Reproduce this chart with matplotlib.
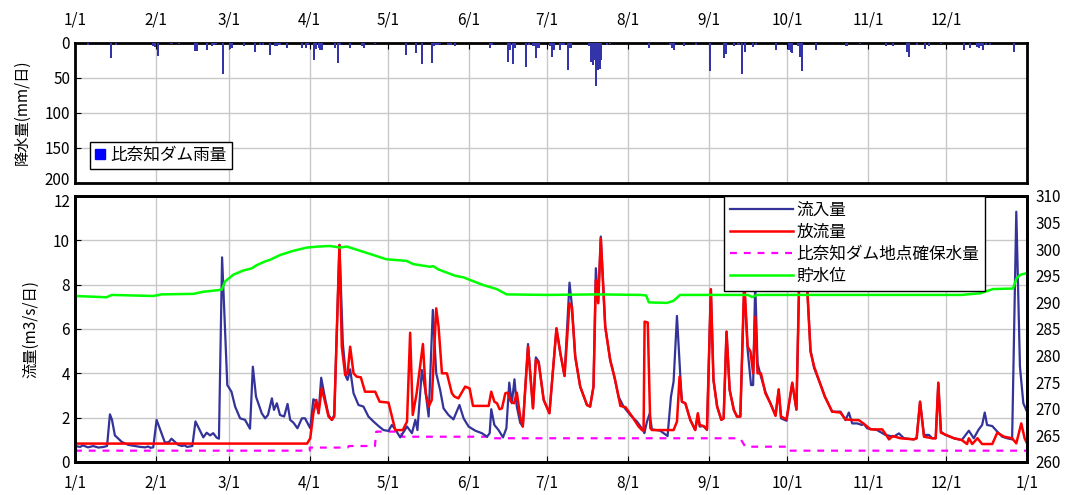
import numpy as np
import matplotlib
matplotlib.use("Agg")
import matplotlib.pyplot as plt
import matplotlib.transforms as mtransforms
from matplotlib.patches import Patch

plt.rcParams["font.family"] = ["Noto Sans CJK JP", "DejaVu Sans"]

# month starts (day of year, 0 = 1/1)
month_days = [0, 31, 59, 90, 120, 151, 181, 212, 243, 273, 304, 334]
month_labels = ["1/1", "2/1", "3/1", "4/1", "5/1", "6/1", "7/1", "8/1", "9/1", "10/1", "11/1", "12/1"]

# daily rainfall (mm/day) at Hinachi dam
rain_day = [4.9, 13.8, 15.7, 30.0, 30.7, 31.7, 37.0, 40.0, 46.0, 46.7, 50.5, 52.4, 53.3, 54.0,
            56.8, 59.5, 60.1, 64.8, 69.0, 71.0, 72.2, 74.8, 76.7, 77.4, 78.4, 81.2, 87.0, 88.6,
            89.5, 91.7, 92.5, 93.4, 94.0, 94.8, 99.7, 101.0, 101.6, 105.5, 110.0, 110.9, 115.0,
            126.8, 130.8, 133.0, 136.8, 137.5, 138.1, 139.0, 140.0, 143.2, 144.1, 145.8, 159.0,
            159.9, 165.9, 166.6, 168.0, 168.8, 172.9, 173.9, 175.8, 176.9, 177.7, 182.2, 182.9,
            183.8, 186.0, 186.6, 187.3, 188.9, 190.0, 197.0, 197.8, 198.6, 199.2, 199.9, 200.5,
            201.1, 201.8, 204.0, 205.0, 220.0, 228.0, 229.0, 229.8, 233.6, 238.0, 243.6, 248.7,
            249.4, 252.5, 254.4, 255.8, 256.8, 260.0, 261.0, 268.8, 273.6, 274.5, 274.9, 277.1,
            277.9, 278.9, 284.0, 295.8, 300.9, 311.0, 313.8, 318.9, 319.8, 322.8, 326.0, 327.3,
            332.0, 341.0, 343.0, 345.7, 346.6, 347.2, 348.0, 349.2, 350.8, 360.0]
rain_mm = [3, 22, 3, 5, 6, 19, 2, 2, 12, 12, 11, 4, 3, 2,
           45, 9, 8, 4, 13, 3, 3, 18, 5, 4, 3, 8, 7, 7,
           3, 24, 9, 8, 11, 11, 7, 29, 3, 7, 4, 7, 2,
           18, 14, 31, 29, 5, 3, 3, 2, 3, 3, 4, 8,
           3, 28, 11, 30, 8, 34, 3, 4, 22, 7, 5, 20,
           11, 10, 3, 3, 39, 7, 4, 27, 32, 25, 62, 39,
           38, 24, 3, 2, 8, 3, 8, 10, 5, 3, 41, 22,
           16, 5, 3, 45, 13, 6, 3, 11, 10, 13, 14, 5,
           20, 40, 10, 5, 2, 5, 4, 13, 20, 3, 9, 5,
           2, 11, 7, 6, 8, 5, 10, 3, 3, 13]

# inflow (m3/s)
in_day = [0, 2, 3, 5, 7, 9, 11, 12.3, 13.4, 14.2, 15.3, 18, 20.5, 23, 25, 27, 28, 29, 30,
          31.3, 34.5, 36, 37, 39.6, 41, 42, 43, 45, 46.2, 49.2, 50.5, 51.8, 53, 54.3, 55.2,
          56.4, 58.4, 60, 61.4, 63.3, 65.2, 67.1, 68.2, 69.4, 71.6, 72.9, 74, 75.5, 76.3, 77.4,
          78.6, 80.2, 81.5, 82.5, 83.8, 85.3, 87, 88.2, 90.2, 91.4, 92.5, 93.4, 94.4, 96, 97.2,
          98.5, 99.4, 101.4, 102.7, 103.9, 104.5, 105.5, 106.8, 108.7, 110.6, 112.5, 114.5,
          116.4, 118.3, 120.2, 121.5, 122.8, 124.7, 127.3, 129.2, 130.5, 131.3, 133, 134.3,
          135.6, 137.2, 138.5, 140, 141.3, 143.2, 145.1, 147.4, 149, 150.9, 153.5, 156, 158,
          159, 159.6, 160.8, 162.4, 164.1, 165.4, 166.5, 167.5, 168.5, 169.4, 170.7, 171.7,
          173.7, 175.6, 176.7, 177.8, 179.7, 181.9, 184.6, 186.1, 187.7, 189.6, 190.5, 191.8,
          193.7, 196.3, 197.5, 198.8, 199.7, 200.6, 201.6, 203.3, 205.2, 206.5, 208.4, 210.3,
          212.9, 215.5, 217.8, 218.3, 219.3, 220.3, 221.2, 224.4, 227.2, 228.5, 229.5, 230.8,
          232.1, 232.7, 234, 235.9, 237.8, 238.8, 239.5, 241, 242.3, 243.8, 244.8, 246.2, 247.8,
          248.7, 249.8, 251, 252.6, 253.8, 255.1, 256.6, 257.9, 259.2, 260, 260.8, 261.7, 263,
          264.7, 266.6, 268.6, 269.8, 270.7, 272.8, 275, 276.6, 277.9, 280, 282, 283.4, 285.5,
          287.5, 290.3, 293.5, 295.4, 296.7, 298, 299.9, 301.7, 302.3, 303.7, 307.5, 310.7,
          313.9, 315.9, 317.8, 321.6, 322.7, 324, 325.5, 327.4, 328.7, 330, 331, 332, 333.7, 337,
          340, 342.7, 344.6, 346.5, 347.8, 348.8, 349.7, 351.7, 353.6, 355.5, 357.4, 359.3,
          360.9, 362.3, 363.6, 365]
in_val = [0.72, 0.68, 0.75, 0.66, 0.72, 0.65, 0.68, 0.72, 2.15, 1.9, 1.2, 0.9, 0.77, 0.72, 0.68,
          0.66, 0.7, 0.64, 0.66, 1.9, 0.87, 0.9, 1.05, 0.77, 0.72, 0.75, 0.68, 0.72, 1.83, 1.11,
          1.32, 1.2, 1.3, 1.1, 1.05, 9.23, 3.47, 3.17, 2.5, 1.97, 1.9, 1.5, 4.3, 2.95, 2.2, 1.97,
          2.12, 2.87, 2.35, 2.65, 2.12, 2.05, 2.62, 1.9, 1.77, 1.52, 1.97, 1.97, 1.52, 2.83, 2.72,
          2.2, 3.8, 2.8, 2.12, 1.9, 2.12, 9.79, 5.35, 3.85, 3.7, 4.18, 3.1, 2.57, 2.5, 2.05, 1.82,
          1.62, 1.44, 1.4, 1.67, 1.47, 1.11, 1.6, 1.3, 1.9, 1.44, 4.15, 3.25, 2.05, 6.86, 4.0,
          3.25, 2.42, 2.12, 1.92, 2.57, 1.97, 1.6, 1.41, 1.3, 1.14, 1.3, 2.38, 1.67, 1.44, 1.11,
          1.52, 3.58, 2.65, 3.73, 2.5, 1.77, 1.6, 5.32, 2.42, 4.72, 4.53, 2.8, 2.2, 6.03, 4.9,
          3.88, 8.09, 7.08, 4.75, 3.4, 2.57, 2.5, 3.4, 8.74, 7.23, 10.17, 6.1, 4.6, 4.0, 2.95,
          2.5, 2.12, 1.82, 1.44, 1.3, 1.82, 2.17, 1.47, 1.41, 1.17, 2.95, 3.62, 6.59, 3.85, 2.72,
          2.65, 1.9, 1.44, 2.12, 1.6, 1.62, 1.44, 7.79, 3.7, 2.5, 1.9, 1.97, 5.88, 3.25, 2.35,
          2.05, 2.05, 8.0, 5.05, 3.47, 3.47, 8.1, 4.45, 3.85, 3.17, 2.65, 2.12, 3.25, 1.97, 1.86,
          3.55, 2.35, 9.5, 9.5, 5.05, 4.23, 3.6, 2.95, 2.27, 2.27, 1.89, 2.23, 1.74, 1.74, 1.67,
          1.74, 1.52, 1.44, 1.22, 1.14, 1.29, 1.07, 1.02, 1.07, 2.72, 1.22, 1.22, 1.07, 1.07,
          3.55, 1.37, 1.22, 1.07, 0.99, 1.41, 1.07, 1.47, 1.67, 2.23, 1.67, 1.62, 1.37, 1.14,
          1.07, 1.02, 11.29, 4.3, 2.65, 2.27]

# release (m3/s)
out_day = [0, 89, 90.2, 91.4, 92.5, 93.4, 94.6, 96, 97.2, 98.5, 99.4, 101.4, 102.3, 103.6, 104.5,
           105.5, 106.8, 108, 109.6, 111.2, 115.1, 116.8, 120.2, 121.5, 122.8, 125.7, 127.3,
           128.5, 129.5, 131, 133.4, 134.5, 135.6, 136.8, 138.5, 139.4, 140.7, 142.6, 144.5,
           145.5, 147, 149.6, 151.3, 152.6, 158.6, 159.6, 160.8, 161.8, 162.8, 163.7, 165, 165.9,
           167.1, 168.4, 169.4, 170.7, 171.7, 173.7, 175.6, 176.7, 177.8, 179.7, 181.9, 184.6,
           186.1, 187.7, 189.6, 190.5, 191.8, 193.7, 196.3, 197.5, 198.8, 199.7, 200.6, 201.6,
           203.3, 205.2, 207.1, 209.1, 211.1, 213.6, 216.1, 217.4, 218, 218.4, 219.6, 220.6, 221.2,
           229.5, 230.8, 231.8, 232.7, 234, 235.9, 237.8, 238.8, 239.5, 241, 242.3, 243.8, 244.8,
           246.2, 247.8, 248.7, 249.8, 251, 252.6, 253.8, 255.1, 256.6, 257.9, 259, 260, 260.8,
           261.7, 263, 264.7, 266.6, 268.6, 269.8, 270.7, 272.8, 275, 276.6, 277.9, 280, 282,
           283.4, 285.5, 287.5, 290.3, 293.5, 295.4, 298.5, 300.5, 303, 305, 309.5, 311, 312.1,
           313.5, 316.5, 321.6, 322.7, 324, 325.5, 328.7, 330, 331, 332, 337, 340, 342, 342.7,
           344, 346, 347.8, 351.7, 353.6, 356.2, 359.3, 360.9, 362.8, 364.1, 365]
out_val = [0.83, 0.83, 1.07, 2.2, 2.8, 2.2, 3.32, 2.65, 2.05, 1.9, 2.05, 9.79, 5.2, 3.92, 4.0,
           5.2, 4.0, 3.85, 3.82, 3.17, 3.17, 2.72, 2.68, 2.05, 1.44, 1.44, 1.82, 5.83, 2.12, 3.1,
           5.32, 3.1, 2.5, 2.8, 6.93, 6.1, 4.0, 4.0, 3.1, 2.95, 2.87, 3.4, 3.32, 2.53, 2.53, 3.17,
           2.72, 2.65, 2.38, 2.42, 3.1, 3.13, 2.72, 2.65, 3.13, 2.05, 1.6, 5.2, 2.42, 4.6, 4.45,
           2.8, 2.2, 6.03, 4.9, 3.88, 7.16, 7.0, 4.75, 3.4, 2.57, 2.5, 3.4, 8.2, 7.16, 10.09, 6.1,
           4.6, 3.7, 2.53, 2.47, 2.05, 1.6, 1.44, 1.41, 6.33, 6.29, 1.52, 1.44, 1.44, 1.82, 3.85,
           2.72, 2.65, 1.9, 1.44, 2.2, 1.67, 1.62, 1.47, 7.79, 3.7, 2.5, 1.9, 1.97, 5.88, 3.25,
           2.35, 2.05, 2.05, 8.2, 5.2, 4.98, 4.0, 6.56, 4.0, 4.0, 3.1, 2.65, 2.08, 3.28, 2.05,
           1.92, 3.58, 2.38, 9.5, 9.5, 4.98, 4.3, 3.6, 2.95, 2.27, 2.23, 1.92, 1.89, 1.89, 1.67,
           1.47, 1.47, 1.22, 1.02, 1.17, 1.07, 1.02, 1.07, 2.72, 1.14, 1.07, 1.07, 3.58, 1.32,
           1.07, 0.99, 0.81, 1.07, 0.81, 1.07, 0.81, 0.81, 1.32, 1.14, 1.07, 0.84, 1.74, 1.07, 0.84]

# required flow at Hinachi dam point (m3/s)
req_day = [0, 90, 90, 104.5, 105, 115, 115.5, 125, 125.5, 159, 159.5, 255, 257, 273, 273.5, 365]
req_val = [0.51, 0.51, 0.65, 0.65, 0.72, 0.72, 1.37, 1.37, 1.14, 1.14, 1.07, 1.07, 0.69, 0.69, 0.51, 0.51]

# reservoir water level (m)
lv_day = [0, 12.1, 14.1, 30, 33.2, 45.4, 49.2, 55, 56.3, 57.5, 60.7, 64.6, 67.8, 69.7, 72.9,
          74.8, 78.6, 83.8, 88.9, 93.4, 97.8, 101.6, 104.2, 109.3, 114.4, 119.4, 122, 127.1,
          129.7, 136, 137.4, 139.3, 145.8, 149, 151.5, 156.6, 161.7, 165.5, 181, 200, 217, 219,
          220, 227, 229.5, 232, 258, 259.6, 261.5, 340, 342, 347, 352, 359.6, 361, 362.5, 365]
lv_val = [291.2, 290.96, 291.4, 291.2, 291.5, 291.6, 292.0, 292.3, 292.4, 293.9, 295.2, 296.0,
          296.4, 297.0, 297.7, 298.0, 298.9, 299.7, 300.3, 300.5, 300.6, 300.3, 300.5, 299.7,
          298.9, 298.1, 298.0, 297.8, 297.2, 296.7, 296.8, 296.2, 295.0, 294.7, 294.2, 293.25,
          292.5, 291.5, 291.4, 291.5, 291.4, 291.3, 290.0, 289.9, 290.3, 291.4, 291.4, 291.0,
          291.4, 291.4, 291.5, 291.7, 292.5, 292.6, 294.5, 295.2, 295.5]

fig = plt.figure(figsize=(10.68, 4.95), dpi=100)
ax_r = fig.add_axes([0.0702, 0.6309, 0.8914, 0.2828])
ax = fig.add_axes([0.0702, 0.0667, 0.8914, 0.5374])
ax2 = ax.twinx()

# ---- rainfall panel
ax_r.bar(rain_day, rain_mm, width=0.8, color="#3333aa", zorder=3)
ax_r.set_xlim(0, 365)
ax_r.set_ylim(200, 0)
ax_r.set_yticks([0, 50, 100, 150, 200])
ax_r.set_xticks(month_days)
ax_r.set_xticklabels(month_labels)
ax_r.tick_params(axis="x", top=True, labeltop=True, bottom=False, labelbottom=False,
                 direction="in", length=4, pad=10, labelsize=11)
ax_r.tick_params(axis="y", direction="in", length=4, labelsize=11)
ax_r.grid(True, color="#c8c8c8", lw=1, zorder=0)
ax_r.set_axisbelow(True)
ax_r.set_ylabel("降水量(mm/日)", fontsize=11, labelpad=10)
for s in ax_r.spines.values():
    s.set_linewidth(2)
ax_r.legend([Patch(facecolor="#0000ff", edgecolor="#0000ff")], ["比奈知ダム雨量"],
            loc="lower left", bbox_to_anchor=(0.016, 0.1), fontsize=12, fancybox=False,
            edgecolor="black", framealpha=1, handlelength=0.6, handleheight=0.6,
            handletextpad=0.3, borderpad=0.3, borderaxespad=0)

# ---- flow panel
l_in, = ax.plot(in_day, in_val, color="#333399", lw=1.6, zorder=3)
l_out, = ax.plot(out_day, out_val, color="#ff0000", lw=1.8, zorder=4)
l_req, = ax.plot(req_day, req_val, color="#ff00ff", lw=1.6, dashes=(3.1, 3.1), zorder=2)
l_lv, = ax2.plot(lv_day, lv_val, color="#00ff00", lw=1.8)

ax.set_xlim(0, 365)
ax.set_ylim(0, 12)
ax.set_yticks(range(0, 13, 2))
ax.set_xticks(month_days + [365])
ax.set_xticklabels(month_labels + ["1/1"])
ax.tick_params(axis="x", direction="in", length=4, pad=9, labelsize=11)
ax.tick_params(axis="y", direction="in", length=4, labelsize=11)
ax.grid(True, color="#c8c8c8", lw=1, zorder=0)
ax.set_axisbelow(True)
ax.set_ylabel("流量(m3/s/日)", fontsize=11, labelpad=10)

ax2.set_ylim(260, 310)
ax2.set_yticks(range(260, 311, 5))
ax2.tick_params(axis="y", direction="in", length=0, pad=6, labelsize=11)
for a in (ax, ax2):
    for s in a.spines.values():
        s.set_linewidth(2)

# keep "200" and "12" from running into each other
fig.canvas.draw()
ax_r.get_yticklabels()[-1].set_transform(
    ax_r.get_yticklabels()[-1].get_transform()
    + mtransforms.ScaledTranslation(0, 3 / 72, fig.dpi_scale_trans))
ax.get_yticklabels()[-1].set_transform(
    ax.get_yticklabels()[-1].get_transform()
    + mtransforms.ScaledTranslation(0, -3 / 72, fig.dpi_scale_trans))

ax2.legend([l_in, l_out, l_req, l_lv], ["流入量", "放流量", "比奈知ダム地点確保水量", "貯水位"],
           loc="upper right", bbox_to_anchor=(0.956, 1.0), fontsize=12, fancybox=False,
           edgecolor="black", framealpha=1, handlelength=3.8, handletextpad=0.2,
           labelspacing=0.3, borderpad=0.35, borderaxespad=0)

fig.savefig("out.png", dpi=100)
